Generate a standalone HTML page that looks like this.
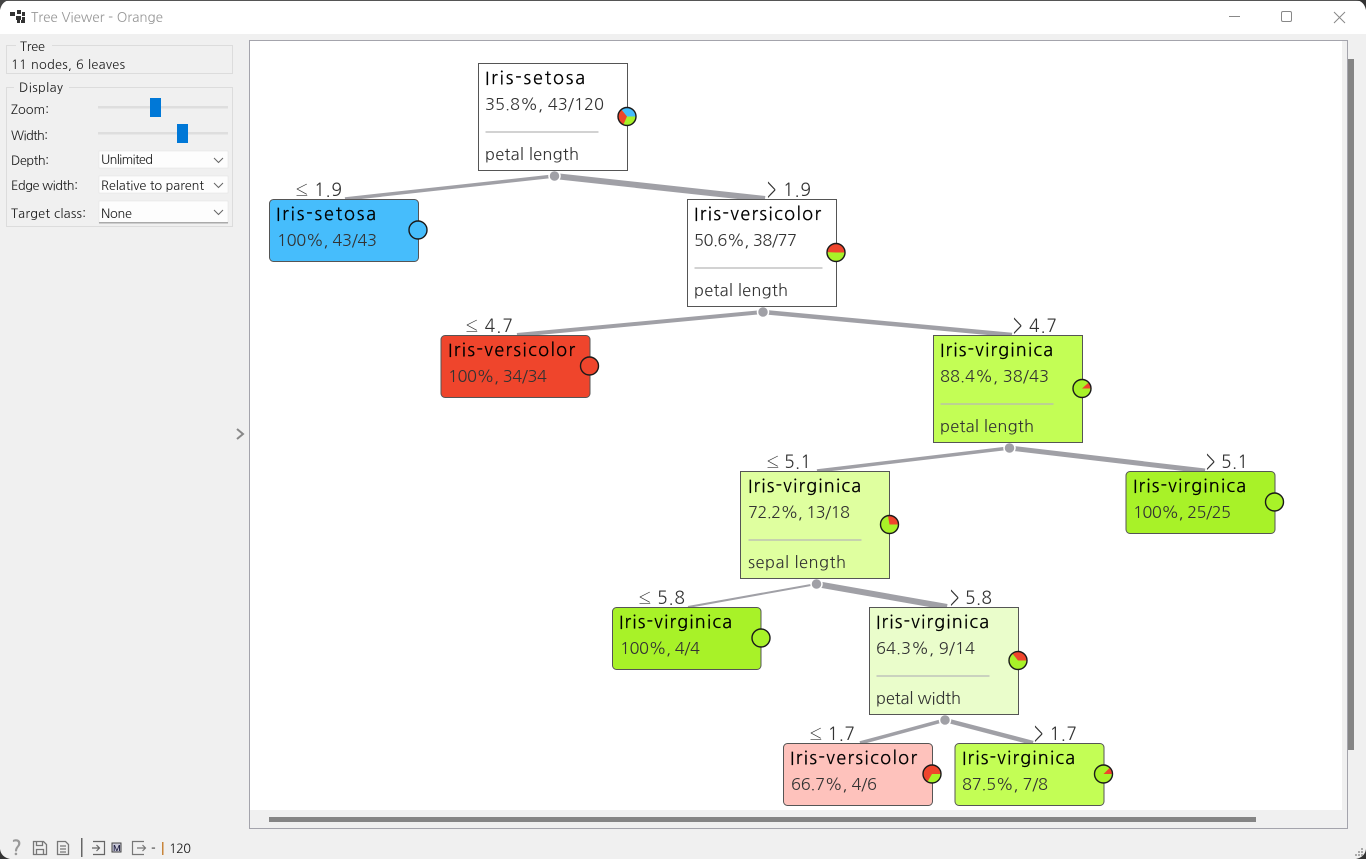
<!DOCTYPE html>
<html><head><meta charset="utf-8"><title>Tree Viewer - Orange</title>
<style>
html,body{margin:0;padding:0;background:#f0f0f0;width:1366px;height:859px;overflow:hidden}
svg{display:block;position:absolute;left:0;top:0}
text{font-family:"NanumGothic","Liberation Sans",sans-serif;fill:#222}
.ui{font-size:12.8px;fill:#1c1c1c}
.t{font-size:18px;fill:#000;stroke:#000;stroke-width:.2}
.s{font-size:16.5px;fill:#333}
.e{font-size:17.5px;fill:#333}
.n{stroke:#555;stroke-width:1}
.l{stroke:#a0a0a6;fill:none}
.sep{stroke:#b8b8b8;stroke-width:1.3}
.pie{stroke:#1a1a1a;stroke-width:1.4;fill:none}
.ic{fill:none;stroke:#777;stroke-width:1.3}
</style></head>
<body>
<svg width="1366" height="859" viewBox="0 0 1366 859" xmlns="http://www.w3.org/2000/svg">
<rect width="1366" height="859" fill="#f0f0f0"/>
<rect width="1366" height="34" fill="#fff"/>
<rect x="0" y="0" width="1366" height="1" fill="#555"/>
<path d="M0 0H10Q2 1 0 10Z" fill="#444"/><path d="M1366 0H1356Q1364 1 1366 10Z" fill="#333"/>
<path d="M0 859V849Q1 857 10 859Z" fill="#333"/><path d="M1366 859V849Q1365 857 1356 859Z" fill="#333"/>

<!-- title bar -->
<g fill="#333"><rect x="10" y="12" width="5" height="4"/><rect x="17" y="10" width="4" height="4"/><rect x="22" y="12" width="3" height="4"/><rect x="16" y="16" width="5" height="4"/><rect x="22" y="17" width="3" height="3"/><rect x="17" y="20" width="3" height="3"/><rect x="21" y="20" width="4" height="3"/></g>
<text x="31" y="22" textLength="132" style="font-size:13.5px;fill:#999">Tree Viewer - Orange</text>
<rect x="1229" y="16" width="11" height="1" fill="#888"/>
<rect x="1281.5" y="11.5" width="10" height="10" rx="1.5" fill="none" stroke="#888" stroke-width="1"/>
<path d="M1334 12L1345 23M1345 12L1334 23" stroke="#888" stroke-width="1" fill="none"/>

<!-- sidebar -->
<rect x="6.5" y="45.5" width="226" height="28" fill="none" stroke="#dcdcdc"/>
<rect x="16" y="40" width="36" height="10" fill="#f0f0f0"/>
<text class="ui" x="20" y="51" textLength="25">Tree</text>
<text class="ui" x="11" y="69" textLength="114">11 nodes, 6 leaves</text>
<rect x="6.5" y="87.5" width="226" height="139" fill="none" stroke="#dcdcdc"/>
<rect x="14" y="82" width="55" height="10" fill="#f0f0f0"/>
<text class="ui" x="19" y="92" textLength="44">Display</text>
<text class="ui" x="11" y="114" textLength="38">Zoom:</text>
<rect x="98" y="106" width="130" height="2.5" fill="#dedede"/>
<rect x="150" y="98" width="11" height="19" fill="#0078d7"/>
<text class="ui" x="11" y="140" textLength="37">Width:</text>
<rect x="98" y="132" width="130" height="2.5" fill="#dedede"/>
<rect x="177" y="124" width="11" height="19" fill="#0078d7"/>
<text class="ui" x="11" y="165" textLength="38">Depth:</text>
<rect x="99" y="151" width="129" height="17" fill="#fdfdfd" stroke="#e4e4e4" stroke-width=".6"/>
<text class="ui" x="101" y="164" textLength="52">Unlimited</text>
<path d="M214 158l4.500 4.500 4.500-4.500" fill="none" stroke="#666"/>
<text class="ui" x="11" y="190" textLength="67">Edge width:</text>
<rect x="99" y="176" width="129" height="17" fill="#fdfdfd" stroke="#e4e4e4" stroke-width=".6"/>
<text class="ui" x="101" y="190" textLength="103">Relative to parent</text>
<path d="M214 183l4.500 4.500 4.500-4.500" fill="none" stroke="#666"/>
<text class="ui" x="11" y="218" textLength="75">Target class:</text>
<rect x="99" y="201" width="129" height="22" fill="#fdfdfd" stroke="#e4e4e4" stroke-width=".6"/>
<rect x="99" y="222" width="129" height="1.500" fill="#aaa"/>
<text class="ui" x="101" y="218" textLength="31">None</text>
<path d="M214 210l4.500 4.500 4.500-4.500" fill="none" stroke="#666"/>
<path d="M237 429l6 5-6 5" fill="none" stroke="#888" stroke-width="2"/>

<!-- canvas frame -->
<rect x="249.500" y="40.500" width="1098" height="788" fill="#f0f0f0" stroke="#a4a4ac" stroke-width="1"/>
<rect x="250" y="41" width="1092" height="769" fill="#fff"/>
<rect x="1348" y="59" width="6" height="691" fill="#858585"/>
<rect x="269" y="817" width="987" height="5" fill="#858585"/>

<!-- edges -->
<g class="l">
<path stroke-width="3.500" d="M554.500 176L345 199"/>
<path stroke-width="6" d="M554.500 176L765 199"/>
<path stroke-width="4" d="M763 312L517 335"/>
<path stroke-width="4.500" d="M763 312L1012 335"/>
<path stroke-width="3.500" d="M1009.500 448L817 471"/>
<path stroke-width="5" d="M1009.500 448L1205 471"/>
<path stroke-width="2" d="M816.500 584L688 607"/>
<path stroke-width="6" d="M816.500 584L947 607"/>
<path stroke-width="3.500" d="M945 720L860 743"/>
<path stroke-width="4.500" d="M945 720L1033 743"/>
</g>
<g fill="#a0a0a6" stroke="#fff" stroke-width="1.500">
<circle cx="554.500" cy="176" r="5.500"/><circle cx="763" cy="312" r="5.500"/><circle cx="1009.500" cy="448" r="5.500"/><circle cx="816.500" cy="584" r="5.500"/><circle cx="945" cy="720" r="5.500"/>
</g>

<!-- edge labels -->
<text class="e" x="296" y="196" textLength="46">≤ 1.9</text>
<text class="e" x="767" y="196" textLength="44">&gt; 1.9</text>
<text class="e" x="466" y="332" textLength="47">≤ 4.7</text>
<text class="e" x="1013" y="332" textLength="44">&gt; 4.7</text>
<text class="e" x="767" y="468" textLength="44">≤ 5.1</text>
<text class="e" x="1206" y="468" textLength="42">&gt; 5.1</text>
<text class="e" x="639" y="604" textLength="46">≤ 5.8</text>
<text class="e" x="950" y="604" textLength="42">&gt; 5.8</text>
<text class="e" x="810" y="740" textLength="45">≤ 1.7</text>
<text class="e" x="1034" y="740" textLength="43">&gt; 1.7</text>

<!-- nodes -->
<rect class="n" x="478.500" y="63.500" width="149" height="107" fill="#fff"/>
<text class="t" x="485" y="84" textLength="100">Iris-setosa</text><text class="s" x="485" y="110" textLength="119">35.8%, 43/120</text>
<line class="sep" x1="485.500" x2="598.500" y1="132" y2="132"/><text class="s" x="485" y="160" textLength="94">petal length</text>

<rect class="n" x="269.500" y="199.500" width="149" height="62" rx="4" fill="#46bdfc"/>
<text class="t" x="276" y="220" textLength="100">Iris-setosa</text><text class="s" x="277" y="246" textLength="100">100%, 43/43</text>

<rect class="n" x="687.500" y="199.500" width="149" height="107" fill="#fff"/>
<text class="t" x="694" y="220" textLength="127">Iris-versicolor</text><text class="s" x="694" y="246" textLength="103">50.6%, 38/77</text>
<line class="sep" x1="694.500" x2="822.500" y1="268" y2="268"/><text class="s" x="694" y="296" textLength="94">petal length</text>

<rect class="n" x="441" y="335.500" width="149" height="62" rx="4" fill="#ef452c"/>
<text class="t" x="448" y="356" textLength="127">Iris-versicolor</text><text class="s" x="448" y="382" textLength="99">100%, 34/34</text>

<rect class="n" x="933.500" y="335.500" width="149" height="107" fill="#c3fe55"/>
<text class="t" x="940" y="356" textLength="113">Iris-virginica</text><text class="s" x="940" y="382" textLength="109">88.4%, 38/43</text>
<line class="sep" x1="940.500" x2="1053.500" y1="404" y2="404"/><text class="s" x="940" y="432" textLength="94">petal length</text>

<rect class="n" x="740.500" y="471.500" width="149" height="107" fill="#dfff9f"/>
<text class="t" x="748" y="492" textLength="113">Iris-virginica</text><text class="s" x="748" y="518" textLength="102">72.2%, 13/18</text>
<line class="sep" x1="748.500" x2="861.500" y1="540" y2="540"/><text class="s" x="748" y="568" textLength="98">sepal length</text>

<rect class="n" x="1126" y="471.500" width="149" height="62" rx="4" fill="#a8f228"/>
<text class="t" x="1133" y="492" textLength="113">Iris-virginica</text><text class="s" x="1133" y="518" textLength="98">100%, 25/25</text>

<rect class="n" x="612.500" y="607.500" width="148.500" height="62" rx="4" fill="#a8f228"/>
<text class="t" x="619" y="628" textLength="113">Iris-virginica</text><text class="s" x="620" y="654" textLength="80">100%, 4/4</text>

<rect class="n" x="869.500" y="607.500" width="149" height="107" fill="#eafdcb"/>
<text class="t" x="876" y="628" textLength="113">Iris-virginica</text><text class="s" x="876" y="654" textLength="99">64.3%, 9/14</text>
<line class="sep" x1="876.500" x2="989.500" y1="676" y2="676"/><text class="s" x="876" y="704" textLength="85">petal width</text>

<rect class="n" x="783.500" y="743.500" width="149" height="62" rx="4" fill="#fec2bc"/>
<text class="t" x="790" y="764" textLength="127">Iris-versicolor</text><text class="s" x="791" y="790" textLength="86">66.7%, 4/6</text>

<rect class="n" x="955" y="743.500" width="149" height="62" rx="4" fill="#c3fe55"/>
<text class="t" x="962" y="764" textLength="113">Iris-virginica</text><text class="s" x="962" y="790" textLength="86">87.5%, 7/8</text>

<!-- pies -->
<g transform="translate(627,116.500)"><circle r="9" fill="#a8f228"/><path d="M0 0L9 0A9 9 0 0 0 -5.660 -7Z" fill="#46bdfc"/><path d="M0 0L-5.660 -7A9 9 0 0 0 -3.660 8.220Z" fill="#ef452c"/><circle class="pie" r="9"/></g>
<g transform="translate(418,230)"><circle r="9" fill="#46bdfc"/><circle class="pie" r="9"/></g>
<g transform="translate(836,252.500)"><circle r="9" fill="#a8f228"/><path d="M0 0L9 0A9 9 0 0 0 -9 -.360Z" fill="#ef452c"/><circle class="pie" r="9"/></g>
<g transform="translate(589.500,366)"><circle r="9" fill="#ef452c"/><circle class="pie" r="9"/></g>
<g transform="translate(1082,388.500)"><circle r="9" fill="#a8f228"/><path d="M0 0L9 0A9 9 0 0 0 6.690 -6.020Z" fill="#ef452c"/><circle class="pie" r="9"/></g>
<g transform="translate(889.500,524.500)"><circle r="9" fill="#a8f228"/><path d="M0 0L9 0A9 9 0 0 0 -1.560 -8.860Z" fill="#ef452c"/><circle class="pie" r="9"/></g>
<g transform="translate(1274.500,502)"><circle r="9" fill="#a8f228"/><circle class="pie" r="9"/></g>
<g transform="translate(761,638)"><circle r="9" fill="#a8f228"/><circle class="pie" r="9"/></g>
<g transform="translate(1018,660.500)"><circle r="9" fill="#a8f228"/><path d="M0 0L9 0A9 9 0 0 0 -5.610 -7.030Z" fill="#ef452c"/><circle class="pie" r="9"/></g>
<g transform="translate(932,774)"><circle r="9" fill="#a8f228"/><path d="M0 0L9 0A9 9 0 1 0 -4.500 7.790Z" fill="#ef452c"/><circle class="pie" r="9"/></g>
<g transform="translate(1103.500,774)"><circle r="9" fill="#a8f228"/><path d="M0 0L9 0A9 9 0 0 0 6.360 -6.360Z" fill="#ef452c"/><circle class="pie" r="9"/></g>

<!-- status bar -->
<text x="11" y="855" style="font-size:20px;font-weight:bold;fill:#999">?</text>
<path class="ic" d="M33.500 841.500h10l3 3v10h-13zM36.500 841.500v4h6v-4M36.500 854.500v-5h7v5"/>
<path class="ic" d="M57.500 841.500h8l3 3v10h-11zM60 846h6M60 849h6M60 852h6"/>
<rect x="81" y="838" width="1.500" height="19" fill="#666"/>
<path d="M93 841.500h11.500v13h-11.500M92 848h7M96.500 845l3 3-3 3" fill="none" stroke="#666" stroke-width="1.200"/>
<rect x="112" y="843" width="9" height="9" fill="#c9c9d8" stroke="#444"/>
<text x="113" y="851" style="font-size:8px;fill:#224;font-weight:bold">M</text>
<path d="M144 841.500h-11.500v13h11.500M137 848h8M142.500 845l3 3-3 3" fill="none" stroke="#777" stroke-width="1.200"/>
<text class="ui" x="151" y="853">-</text>
<rect x="162" y="842" width="1.500" height="13" fill="#c8853a"/>
<text class="ui" x="169" y="853" textLength="22">120</text>
<g fill="#aaa"><rect x="1361" y="848" width="2" height="2"/><rect x="1358" y="851" width="2" height="2"/><rect x="1361" y="851" width="2" height="2"/><rect x="1355" y="854" width="2" height="2"/><rect x="1358" y="854" width="2" height="2"/><rect x="1361" y="854" width="2" height="2"/></g>
</svg>
</body></html>
